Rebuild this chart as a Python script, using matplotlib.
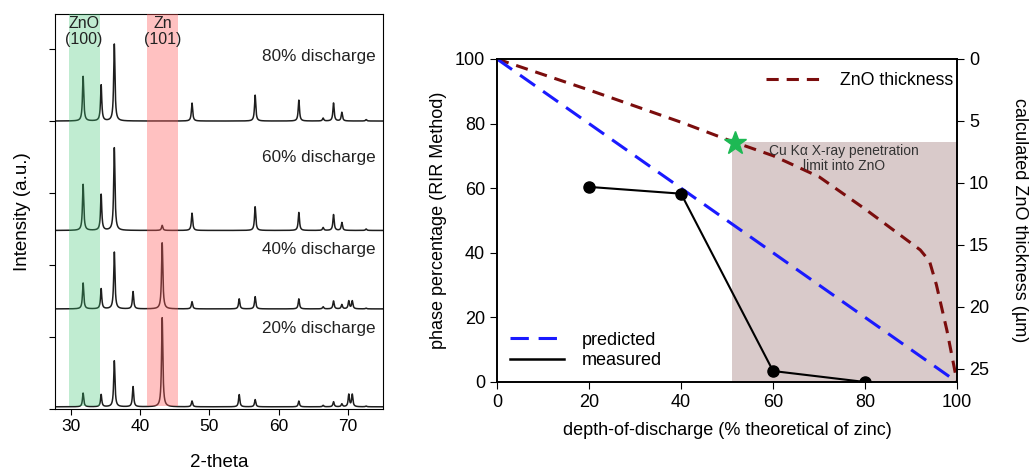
import numpy as np
import matplotlib.pyplot as plt
from matplotlib.lines import Line2D

plt.rcParams['font.family'] = ['Liberation Sans', 'DejaVu Sans']

# ---- XRD patterns (left) ----
two_theta_range = (27.75, 75.0)
labels = ['20% discharge', '40% discharge', '60% discharge', '80% discharge']
offsets = [3, 139, 248, 400]

peak_pos = [31.8, 34.4, 36.3, 39.0, 43.2, 47.5, 54.3, 56.6, 62.9, 66.4, 67.9, 69.1, 70.1, 70.6, 72.6]
heights_20 = [19, 17, 64, 28, 124, 8, 17, 10, 8, 2, 7, 4, 17, 17, 1]
heights_40 = [36, 28, 79, 24, 92, 10, 14, 17, 14, 3, 11, 6, 11, 11, 1]
heights_60 = [64, 50, 115, 0, 7, 24, 0, 33, 25, 4, 22, 11, 0, 0, 2]
heights_80 = [62, 50, 107, 0, 0, 25, 0, 36, 29, 4, 25, 12, 0, 0, 2]
all_heights = [heights_20, heights_40, heights_60, heights_80]

# ---- phase percentage (right) ----
dod_measured = [20, 40, 60, 80]
phase_measured = [60.4, 58.3, 3.4, 0.0]
dod_predicted = [0, 100]
phase_predicted = [100, 0]
dod_thick = [0, 10, 20, 30, 40, 50, 60, 70, 80, 88, 92, 94, 95.5, 97.8, 100]
zno_thick = [0, 1.25, 2.5, 3.8, 5.1, 6.5, 7.8, 9.5, 12.1, 14.3, 15.4, 16.3, 18.2, 21.9, 26.05]
star_dod, star_thick = 51.7, 6.8
limit_dod = 51
limit_thick = 6.7


def pattern(x, pos, hts, w=0.11):
    y = np.zeros_like(x)
    for p, h in zip(pos, hts):
        y += h * w**2 / ((x - p)**2 + w**2)
    return y


fig = plt.figure(figsize=(10.34, 4.75), dpi=100)

# left panel
ax1 = fig.add_axes([0.0532, 0.139, 0.317, 0.832])
x = np.linspace(two_theta_range[0], two_theta_range[1], 4000)
for off, hts in zip(offsets, all_heights):
    ax1.plot(x, off + pattern(x, peak_pos, hts), color='#1e1e1e', lw=1.1)
ax1.axvspan(29.7, 34.2, ymin=0.008, ymax=1, color='#3cc472', alpha=0.32, lw=0, zorder=3)
ax1.axvspan(41.05, 45.55, ymin=0.008, ymax=1, color='#ff5c5c', alpha=0.38, lw=0, zorder=3)
ax1.text(31.95, 546, 'ZnO\n(100)', ha='center', va='top', fontsize=11.5, color='#222222',
         linespacing=1.1, zorder=4)
ax1.text(43.3, 546, 'Zn\n(101)', ha='center', va='top', fontsize=11.5, color='#222222',
         linespacing=1.1, zorder=4)
label_y = [112, 221, 349, 490]
for lab, yy in zip(labels, label_y):
    ax1.text(74.0, yy, lab, ha='right', va='center', fontsize=12.3, color='#222222')
ax1.set_xlim(*two_theta_range)
ax1.set_ylim(0, 549)
ax1.set_xticks([30, 40, 50, 60, 70])
ax1.set_yticks([0, 100, 200, 300, 400, 500])
ax1.set_yticklabels([])
ax1.tick_params(axis='both', direction='out', length=4, labelsize=12.5)
ax1.set_xlabel('2-theta', fontsize=13.5, labelpad=14)
ax1.set_ylabel('Intensity (a.u.)', fontsize=13.5, labelpad=10)

# right panel
ax2 = fig.add_axes([0.4807, 0.1958, 0.4449, 0.680])
ax3 = ax2.twinx()
ax3.set_ylim(26.05, 0)
ax2.set_xlim(0, 100)
ax2.set_ylim(0, 100)

ax3.fill_between([limit_dod, 100], limit_thick, 26.05, color='#d9caca', lw=0, zorder=0)
ax3.text(75.5, 8.0, 'Cu K\u03b1 X-ray penetration\nlimit into ZnO', ha='center', va='center',
         fontsize=10, color='#333333', linespacing=1.1)
ax3.plot(dod_thick, zno_thick, color='#7b0d0d', lw=2.2, dashes=(4, 2.6), label='ZnO thickness')
ax3.plot([star_dod], [star_thick], marker='*', ms=17, color='#1db954', mec='#1db954', zorder=5)

ax2.set_zorder(ax3.get_zorder() + 1)
ax2.patch.set_visible(False)
ax2.plot(dod_predicted, phase_predicted, color='#1a1aff', lw=2.2, dashes=(6, 3.2))
ax2.plot(dod_measured, phase_measured, color='black', lw=1.5, marker='o', ms=8)

ax2.set_xticks([0, 20, 40, 60, 80, 100])
ax2.set_yticks([0, 20, 40, 60, 80, 100])
ax3.set_yticks([0, 5, 10, 15, 20, 25])
for a in (ax2, ax3):
    a.tick_params(direction='out', length=5, labelsize=13)
    for s in a.spines.values():
        s.set_linewidth(1.2)
ax2.set_xlabel('depth-of-discharge (% theoretical of zinc)', fontsize=13, labelpad=8)
ax2.set_ylabel('phase percentage (RIR Method)', fontsize=13, labelpad=6)
ax3.set_ylabel('calculated ZnO thickness (\u00b5m)', fontsize=13, rotation=270, labelpad=28)

handles = [Line2D([], [], color='#1a1aff', lw=2.2, dashes=(6, 3.2)),
           Line2D([], [], color='black', lw=1.8)]
ax2.legend(handles, ['predicted', 'measured'], loc='lower left', frameon=False, fontsize=13,
           handlelength=3.0, borderaxespad=0.3, labelspacing=0.2, handletextpad=1.0)
ax3.legend(loc='upper right', bbox_to_anchor=(1.0, 0.97), frameon=False, fontsize=12.8,
           handlelength=3.2, borderaxespad=0.0, handletextpad=1.0, borderpad=0.2)

fig.savefig('out.png', dpi=100)
